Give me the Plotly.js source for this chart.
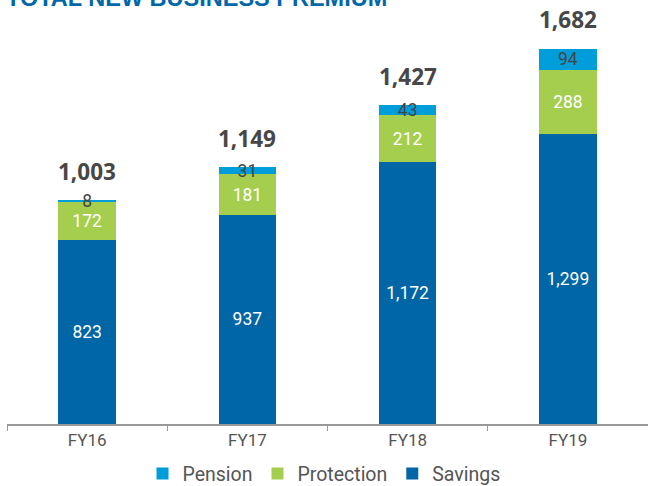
<!DOCTYPE html>
<html><head><meta charset="utf-8">
<script src="https://cdn.plot.ly/plotly-3.0.1.min.js"></script>
<style>html,body{margin:0;padding:0;background:#fff}</style>
</head><body>
<div id="chart" style="width:648px;height:486px"></div>
<script>
const categories = ["FY16", "FY17", "FY18", "FY19"];
const savings = [823, 937, 1172, 1299];
const protection = [172, 181, 212, 288];
const pension = [8, 31, 43, 94];
const totals = [1003, 1149, 1427, 1682];
const totalLabels = ["1,003", "1,149", "1,427", "1,682"];
const savingsLabels = ["823", "937", "1,172", "1,299"];

const labelFont = {family: "Roboto", size: 17.5};
const traces = [
  {type: "bar", name: "Savings", x: categories, y: savings, text: savingsLabels,
   marker: {color: "#0066a6"}, textposition: "inside", insidetextanchor: "middle", textangle: 0,
   textfont: Object.assign({color: "#ffffff"}, labelFont), hoverinfo: "skip"},
  {type: "bar", name: "Protection", x: categories, y: protection, text: protection.map(String),
   marker: {color: "#a6ce4e"}, textposition: "inside", insidetextanchor: "middle", textangle: 0,
   textfont: Object.assign({color: "#ffffff"}, labelFont), hoverinfo: "skip"},
  {type: "bar", name: "Pension", x: categories, y: pension, text: pension.map(String),
   marker: {color: "#009ddb"}, textposition: "inside", insidetextanchor: "middle", textangle: 0,
   textfont: Object.assign({color: "#444444"}, labelFont), hoverinfo: "skip"}
];

const annotations = categories.map((c, i) => ({
  x: c, y: totals[i], xref: "x", yref: "y", text: "<b>" + totalLabels[i] + "</b>",
  showarrow: false, yanchor: "bottom", yshift: 11,
  font: {family: "Open Sans", size: 22.5, color: "#474747"}
}));
annotations.push({
  xref: "paper", yref: "paper", x: 0, y: 1, xanchor: "left", yanchor: "bottom",
  xshift: -3, yshift: 17, showarrow: false,
  text: "<b>TOTAL NEW BUSINESS PREMIUM</b>",
  font: {family: "Liberation Sans", size: 23.5, color: "#0067a8"}
});

const layout = {
  width: 648, height: 486,
  margin: {l: 7, r: 0, t: 30, b: 62},
  barmode: "stack", bargap: 0.64,
  paper_bgcolor: "#ffffff", plot_bgcolor: "#ffffff",
  uniformtext: {mode: "show", minsize: 17.5},
  showlegend: true,
  legend: {orientation: "h", x: 0.5, xanchor: "center", xref: "container",
    y: 0.025, yanchor: "middle", yref: "container",
    traceorder: "reversed", font: {family: "Roboto", size: 19.5, color: "#555555"},
    itemwidth: 30},
  xaxis: {type: "category", range: [-0.5, 3.5], showline: true, linecolor: "#999999", linewidth: 1.5,
    ticks: "outside", ticklen: 5, tickcolor: "#999999", tickson: "boundaries",
    tickfont: {family: "Roboto", size: 17, color: "#555555"}, showgrid: false, fixedrange: true},
  yaxis: {range: [0, 1764], visible: false, showgrid: false, zeroline: false, fixedrange: true},
  annotations: annotations
};

Plotly.newPlot("chart", traces, layout, {displayModeBar: false, staticPlot: true});
</script>
</body></html>
